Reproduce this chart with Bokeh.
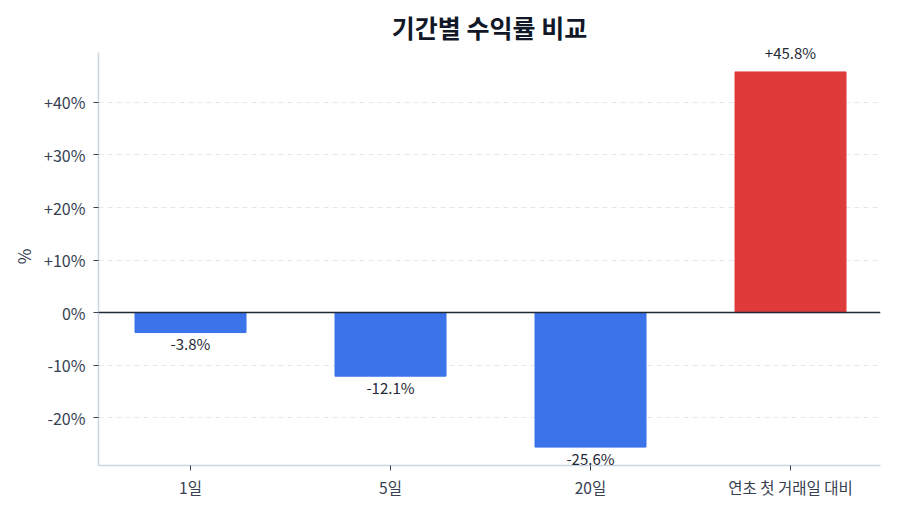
from bokeh.plotting import figure
from bokeh.models import ColumnDataSource, Range1d, FixedTicker, Span, Label
from bokeh.embed import file_html
from bokeh.resources import INLINE

# data
periods = ["1일", "5일", "20일", "연초 첫 거래일 대비"]
returns = [-3.8, -12.1, -25.6, 45.8]
y_ticks = [-20, -10, 0, 10, 20, 30, 40]

FONT = "Noto Sans CJK KR"
BLUE = "#3b73ea"
RED = "#e03b3b"

xs = list(range(len(periods)))
colors = [RED if v >= 0 else BLUE for v in returns]

source = ColumnDataSource(data=dict(x=xs, top=returns, color=colors))

# frame is a bit taller than the axis so the top value label is not clipped
p = figure(
    width=900, height=514,
    x_range=Range1d(-0.46, 3.45),
    y_range=Range1d(-29.1, 50.45),
    output_backend="svg", toolbar_location=None,
    min_border_left=98, min_border_right=20, min_border_top=47, min_border_bottom=49,
)

p.title.text = "기간별 수익률 비교"
p.title.align = "center"
p.title.text_font = FONT
p.title.text_font_size = "25px"
p.title.text_font_style = "bold"
p.title.text_color = "#111827"
p.title.offset = 0
p.title.standoff = 5

p.vbar(x="x", top="top", bottom=0, width=0.555, color="color", source=source)

zero = Span(location=0, dimension="width", line_color="#1f2937", line_width=1.5)
p.add_layout(zero)

# value labels
for x, v in zip(xs, returns):
    txt = ("+%.1f%%" % v) if v >= 0 else ("%.1f%%" % v)
    p.add_layout(Label(x=x, y=v, text=txt, y_offset=19.5 if v >= 0 else -11,
                       text_align="center", text_baseline="middle", text_font=FONT,
                       text_font_size="15px", text_color="#1f2937"))

# axes
p.xaxis.ticker = FixedTicker(ticks=xs)
p.xaxis.major_label_overrides = {i: periods[i] for i in xs}
p.yaxis.ticker = FixedTicker(ticks=y_ticks)
p.yaxis.major_label_overrides = {t: ("+%d%%" % t) if t > 0 else ("%d%%" % t) for t in y_ticks}
p.yaxis.axis_label = "%"
p.yaxis.bounds = (-29.1, 49.5)

for ax in (p.xaxis, p.yaxis):
    ax.axis_line_color = "#cbd5e1"
    ax.axis_line_width = 1.5
    ax.major_tick_line_color = "#374151"
    ax.major_tick_in = 0
    ax.major_tick_out = 5
    ax.minor_tick_line_color = None
    ax.major_label_text_font = FONT
    ax.major_label_text_color = "#374151"
    ax.axis_label_text_font = FONT
    ax.axis_label_text_font_size = "17px"
    ax.axis_label_text_font_style = "normal"
    ax.axis_label_text_color = "#374151"
p.yaxis.major_label_text_font_size = "16px"
p.yaxis.major_label_standoff = 8
p.xaxis.major_label_text_font_size = "15.5px"

p.xgrid.grid_line_color = None
p.ygrid.grid_line_color = "#e5e7eb"
p.ygrid.grid_line_dash = "5 4"
p.outline_line_color = None

open("out.html", "w").write(file_html(p, INLINE))
